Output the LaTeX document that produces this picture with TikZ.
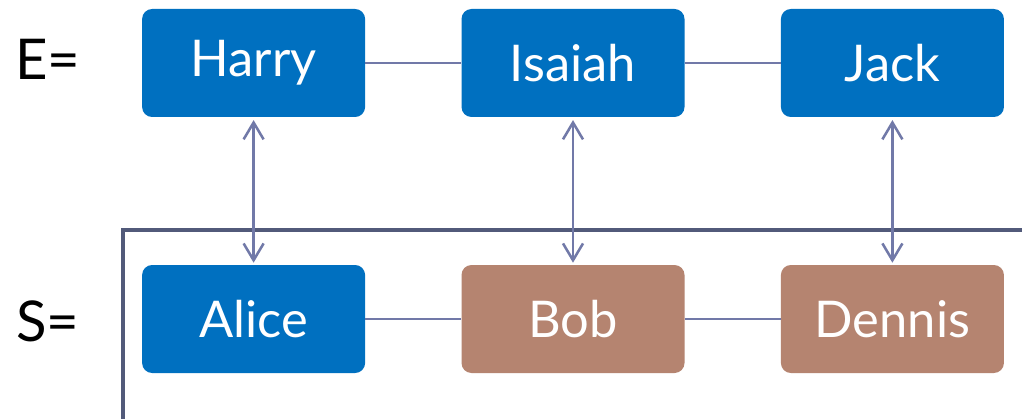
\documentclass[tikz,border=0pt]{standalone}
\usepackage{fontspec}
\setmainfont{Lato}
\usetikzlibrary{arrows.meta}

\definecolor{boxblue}{HTML}{0070C0}
\definecolor{boxbrown}{HTML}{B58470}
\definecolor{linkgray}{HTML}{7179A8}
\definecolor{framegray}{HTML}{525A7A}

\tikzset{
  elem/.style={rectangle, rounded corners=0.25cm, minimum width=5.575cm, minimum height=2.7cm,
    text=white, font=\fontsize{36}{40}\selectfont, inner sep=0pt},
  eelem/.style={elem, fill=boxblue},
  selem/.style={elem, fill=boxblue},
  nelem/.style={elem, fill=boxbrown},
  link/.style={draw=linkgray, line width=1.8pt},
  pair/.style={link, {Straight Barb[length=0.42cm, width=0.5cm, line width=1.8pt]}-{Straight Barb[length=0.42cm, width=0.5cm, line width=1.8pt]}, shorten <=0.07cm, shorten >=0.05cm},
  setname/.style={font=\fontsize{40}{44}\selectfont}
}

\begin{document}
\begin{tikzpicture}
   \useasboundingbox (0,0) rectangle (25.55,10.475);
   \fill[white] (0,0) rectangle (25.55,10.475);

   % frame of S
   \draw[framegray, line width=2.8pt] (3.075,0) -- (3.075,4.725) -- (25.6,4.725);

   \node[setname](E) at (1.2,9.0) {E=};
   \node[setname](S) at (1.2,2.45) {S=};

   \node[eelem](harry) at (6.34,8.9) {Harry};
   \node[eelem](isaiah) at (14.325,8.9) {Isaiah};
   \node[eelem](jack) at (22.31,8.9) {Jack};
   \node[selem](alice) at (6.34,2.5) {Alice};
   \node[nelem](bob) at (14.325,2.5) {Bob};
   \node[nelem](dennis) at (22.31,2.5) {Dennis};

   \draw[link](harry) to (isaiah);
   \draw[link](isaiah) to (jack);
   \draw[link](alice) to (bob);
   \draw[link](bob) to (dennis);

   \draw[pair](harry) to (alice);
   \draw[pair](isaiah) to (bob);
   \draw[pair](jack) to (dennis);
\end{tikzpicture}
\end{document}
